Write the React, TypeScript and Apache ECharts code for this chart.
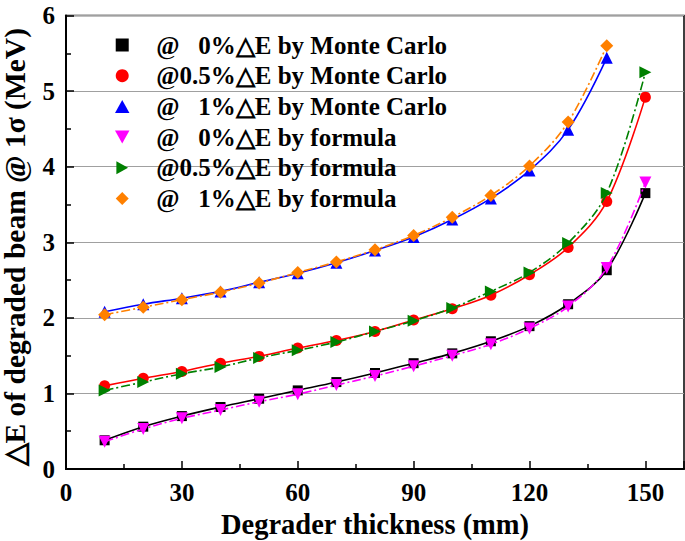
import React, { useEffect, useRef } from "react";
import * as echarts from "echarts";

const thickness15 = [10, 20, 30, 40, 50, 60, 70, 80, 90, 100, 110, 120, 130, 140, 150];
const thickness14 = [10, 20, 30, 40, 50, 60, 70, 80, 90, 100, 110, 120, 130, 140];

const mc0 = [0.38, 0.56, 0.70, 0.82, 0.93, 1.04, 1.15, 1.27, 1.40, 1.53, 1.69, 1.89, 2.18, 2.63, 3.65];
const mc05 = [1.10, 1.20, 1.29, 1.40, 1.49, 1.60, 1.70, 1.82, 1.97, 2.12, 2.30, 2.57, 2.93, 3.54, 4.92];
const mc1 = [2.08, 2.18, 2.26, 2.35, 2.47, 2.59, 2.73, 2.89, 3.07, 3.30, 3.58, 3.95, 4.49, 5.44];
const f0 = [0.36, 0.53, 0.67, 0.78, 0.89, 0.99, 1.11, 1.23, 1.36, 1.50, 1.65, 1.86, 2.15, 2.66, 3.79];
const f05 = [1.04, 1.15, 1.26, 1.35, 1.47, 1.57, 1.68, 1.82, 1.96, 2.13, 2.35, 2.60, 2.99, 3.65, 5.25];
const f1 = [2.04, 2.14, 2.24, 2.34, 2.46, 2.60, 2.74, 2.90, 3.09, 3.33, 3.62, 4.01, 4.59, 5.60];

const names = [
  "@\u2002 0%\u25B3E by Monte Carlo",
  "@0.5%\u25B3E by Monte Carlo",
  "@\u2002 1%\u25B3E by Monte Carlo",
  "@\u2002 0%\u25B3E by formula",
  "@0.5%\u25B3E by formula",
  "@\u2002 1%\u25B3E by formula",
];

const SQUARE = "path://M0,0 L10,0 L10,10 L0,10 Z";
const UP = "path://M5,0 L10,9 L0,9 Z";
const DOWN = "path://M0,0 L10,0 L5,9 Z";
const RIGHT = "path://M0,0 L9,5 L0,10 Z";
const DIAMOND = "path://M5,0 L10,5 L5,10 L0,5 Z";
const FONT = "'Liberation Serif', 'Times New Roman', serif";

export default function App() {
  const ref = useRef<HTMLDivElement>(null);
  useEffect(() => {
    const chart = echarts.init(ref.current!, null, { renderer: "svg" });
    const pair = (xs: number[], ys: number[]) => ys.map((v, i) => [xs[i], v]);
    const dashDot = [9, 3, 2, 3];
    const mk = (
      name: string, xs: number[], ys: number[], color: string, symbol: string,
      size: number, dashed: boolean
    ) => ({
      name, type: "line", data: pair(xs, ys), smooth: 0.35,
      symbol, symbolSize: size, showSymbol: true,
      itemStyle: { color },
      lineStyle: { color, width: 1.6, type: dashed ? dashDot : "solid" },
      z: dashed ? 3 : 2,
    });
    const series = [
      mk(names[0], thickness15, mc0, "#000000", SQUARE, 10, false),
      mk(names[1], thickness15, mc05, "#ff0000", "circle", 11, false),
      mk(names[2], thickness14, mc1, "#0000ff", UP, 12, false),
      mk(names[3], thickness15, f0, "#ff00ff", DOWN, 12, true),
      mk(names[4], thickness15, f05, "#008000", RIGHT, 12, true),
      mk(names[5], thickness14, f1, "#ff8000", DIAMOND, 13, true),
    ];
    const icons = [SQUARE, "circle", UP, DOWN, RIGHT, DIAMOND];
    chart.setOption({
      animation: false,
      grid: {
        left: 66, right: 1, top: 15.5, bottom: 72,
        outerBoundsMode: "none", containLabel: false,
        show: true, borderColor: "#000", borderWidth: 1.5,
      },
      legend: {
        orient: "vertical", left: 110, top: 27.5,
        itemWidth: 58, itemHeight: 13, itemGap: 5.7,
        data: names.map((n, i) => ({ name: n, icon: icons[i] })),
        textStyle: {
          fontFamily: FONT, fontWeight: "bold", fontSize: 25, color: "#000", lineHeight: 25,
        },
      },
      xAxis: {
        type: "value", min: 0, max: 160, interval: 30,
        name: "Degrader thickness (mm)", nameLocation: "middle", nameGap: 36,
        nameTextStyle: { fontFamily: FONT, fontWeight: "bold", fontSize: 28.5, color: "#000" },
        axisLine: { lineStyle: { color: "#000", width: 2 } },
        axisTick: { inside: true, length: 8, lineStyle: { color: "#000", width: 1.5 } },
        minorTick: { show: true, splitNumber: 2, length: 5, lineStyle: { color: "#000", width: 1.5 } },
        axisLabel: {
          fontFamily: FONT, fontWeight: "bold", fontSize: 25, color: "#000", margin: 11,
          formatter: (v: number) => (v > 150 ? "" : String(v)),
        },
        splitLine: { show: false },
      },
      yAxis: {
        type: "value", min: 0, max: 6, interval: 1,
        name: "\u25B3E of degraded beam @ 1\u03C3 (MeV)", nameLocation: "middle", nameGap: 36,
        nameTextStyle: {
          fontFamily: FONT, fontWeight: "bold", fontSize: 29.5, color: "#000", padding: [0, 10, 0, 0],
        },
        axisLine: { lineStyle: { color: "#000", width: 2 } },
        axisTick: { inside: true, length: 8, lineStyle: { color: "#000", width: 1.5 } },
        minorTick: { show: true, splitNumber: 2, length: 5, lineStyle: { color: "#000", width: 1.5 } },
        axisLabel: { fontFamily: FONT, fontWeight: "bold", fontSize: 25, color: "#000", margin: 11 },
        splitLine: { show: true, lineStyle: { color: "#a0a0a0", width: 1.2 } },
      },
      series,
    });
    return () => chart.dispose();
  }, []);
  return <div ref={ref} style={{ width: 685, height: 541, position: "absolute", left: 0, top: 0 }} />;
}
